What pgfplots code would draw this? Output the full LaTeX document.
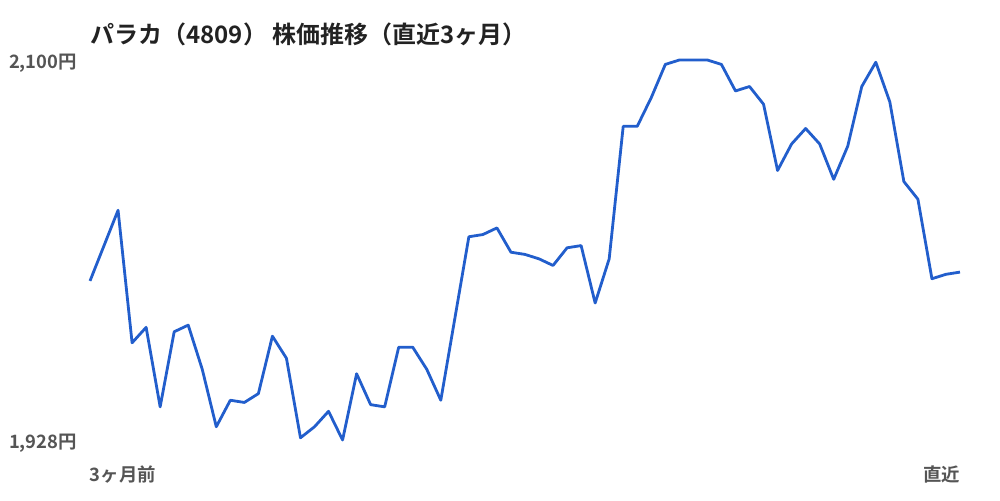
\documentclass[border=0pt]{standalone}
\usepackage{fontspec}
\setmainfont{Noto Sans CJK JP}[BoldFont={Noto Sans CJK JP Bold}]
\usepackage{pgfplots}
\pgfplotsset{compat=1.18}
\definecolor{lineblue}{RGB}{34,94,204}
\definecolor{labelgray}{RGB}{85,85,85}
\definecolor{titleblack}{RGB}{34,34,34}
\begin{document}
\begin{tikzpicture}
% page is 1000x500 px at 0.5pt per px
\path[use as bounding box] (-45pt,-30pt) rectangle (455pt,220pt);
\begin{axis}[
    at={(0,0)}, anchor=south west,
    scale only axis,
    width=435pt, height=190pt,
    xmin=0, xmax=62,
    ymin=1928, ymax=2100,
    axis line style={draw=none},
    major tick length=0pt,
    xtick={0,62},
    xticklabels={\rlap{3ヶ月前},\llap{直近}},
    ytick={1928,2100},
    yticklabels={{1,928円},{2,100円}},
    tick label style={font=\fontsize{9.2}{10}\selectfont\bfseries, text=labelgray},
    yticklabel style={xshift=-3pt, yshift=-1.5pt},
    xticklabel style={yshift=-9.5pt},
    clip=false,
]
\addplot[color=lineblue, line width=1.4pt, line join=round] coordinates {
    (0,2000)(1,2016)(2,2032)(3,1972)(4,1979)(5,1943)(6,1977)(7,1980)
    (8,1960)(9,1934)(10,1946)(11,1945)(12,1949)(13,1975)(14,1965)(15,1929)
    (16,1934)(17,1941)(18,1928)(19,1958)(20,1944)(21,1943)(22,1970)(23,1970)
    (24,1960)(25,1946)(26,1983)(27,2020)(28,2021)(29,2024)(30,2013)(31,2012)
    (32,2010)(33,2007)(34,2015)(35,2016)(36,1990)(37,2010)(38,2070)(39,2070)
    (40,2083)(41,2098)(42,2100)(43,2100)(44,2100)(45,2098)(46,2086)(47,2088)
    (48,2080)(49,2050)(50,2062)(51,2069)(52,2062)(53,2046)(54,2061)(55,2088)
    (56,2099)(57,2081)(58,2045)(59,2037)(60,2001)(61,2003)(62,2004)
};
\node[anchor=west, inner sep=0pt, text=titleblack, font=\fontsize{12}{14}\selectfont\bfseries]
    at ([yshift=13pt]rel axis cs:0,1) {パラカ（4809） 株価推移（直近3ヶ月）};
\end{axis}
\end{tikzpicture}
\end{document}
